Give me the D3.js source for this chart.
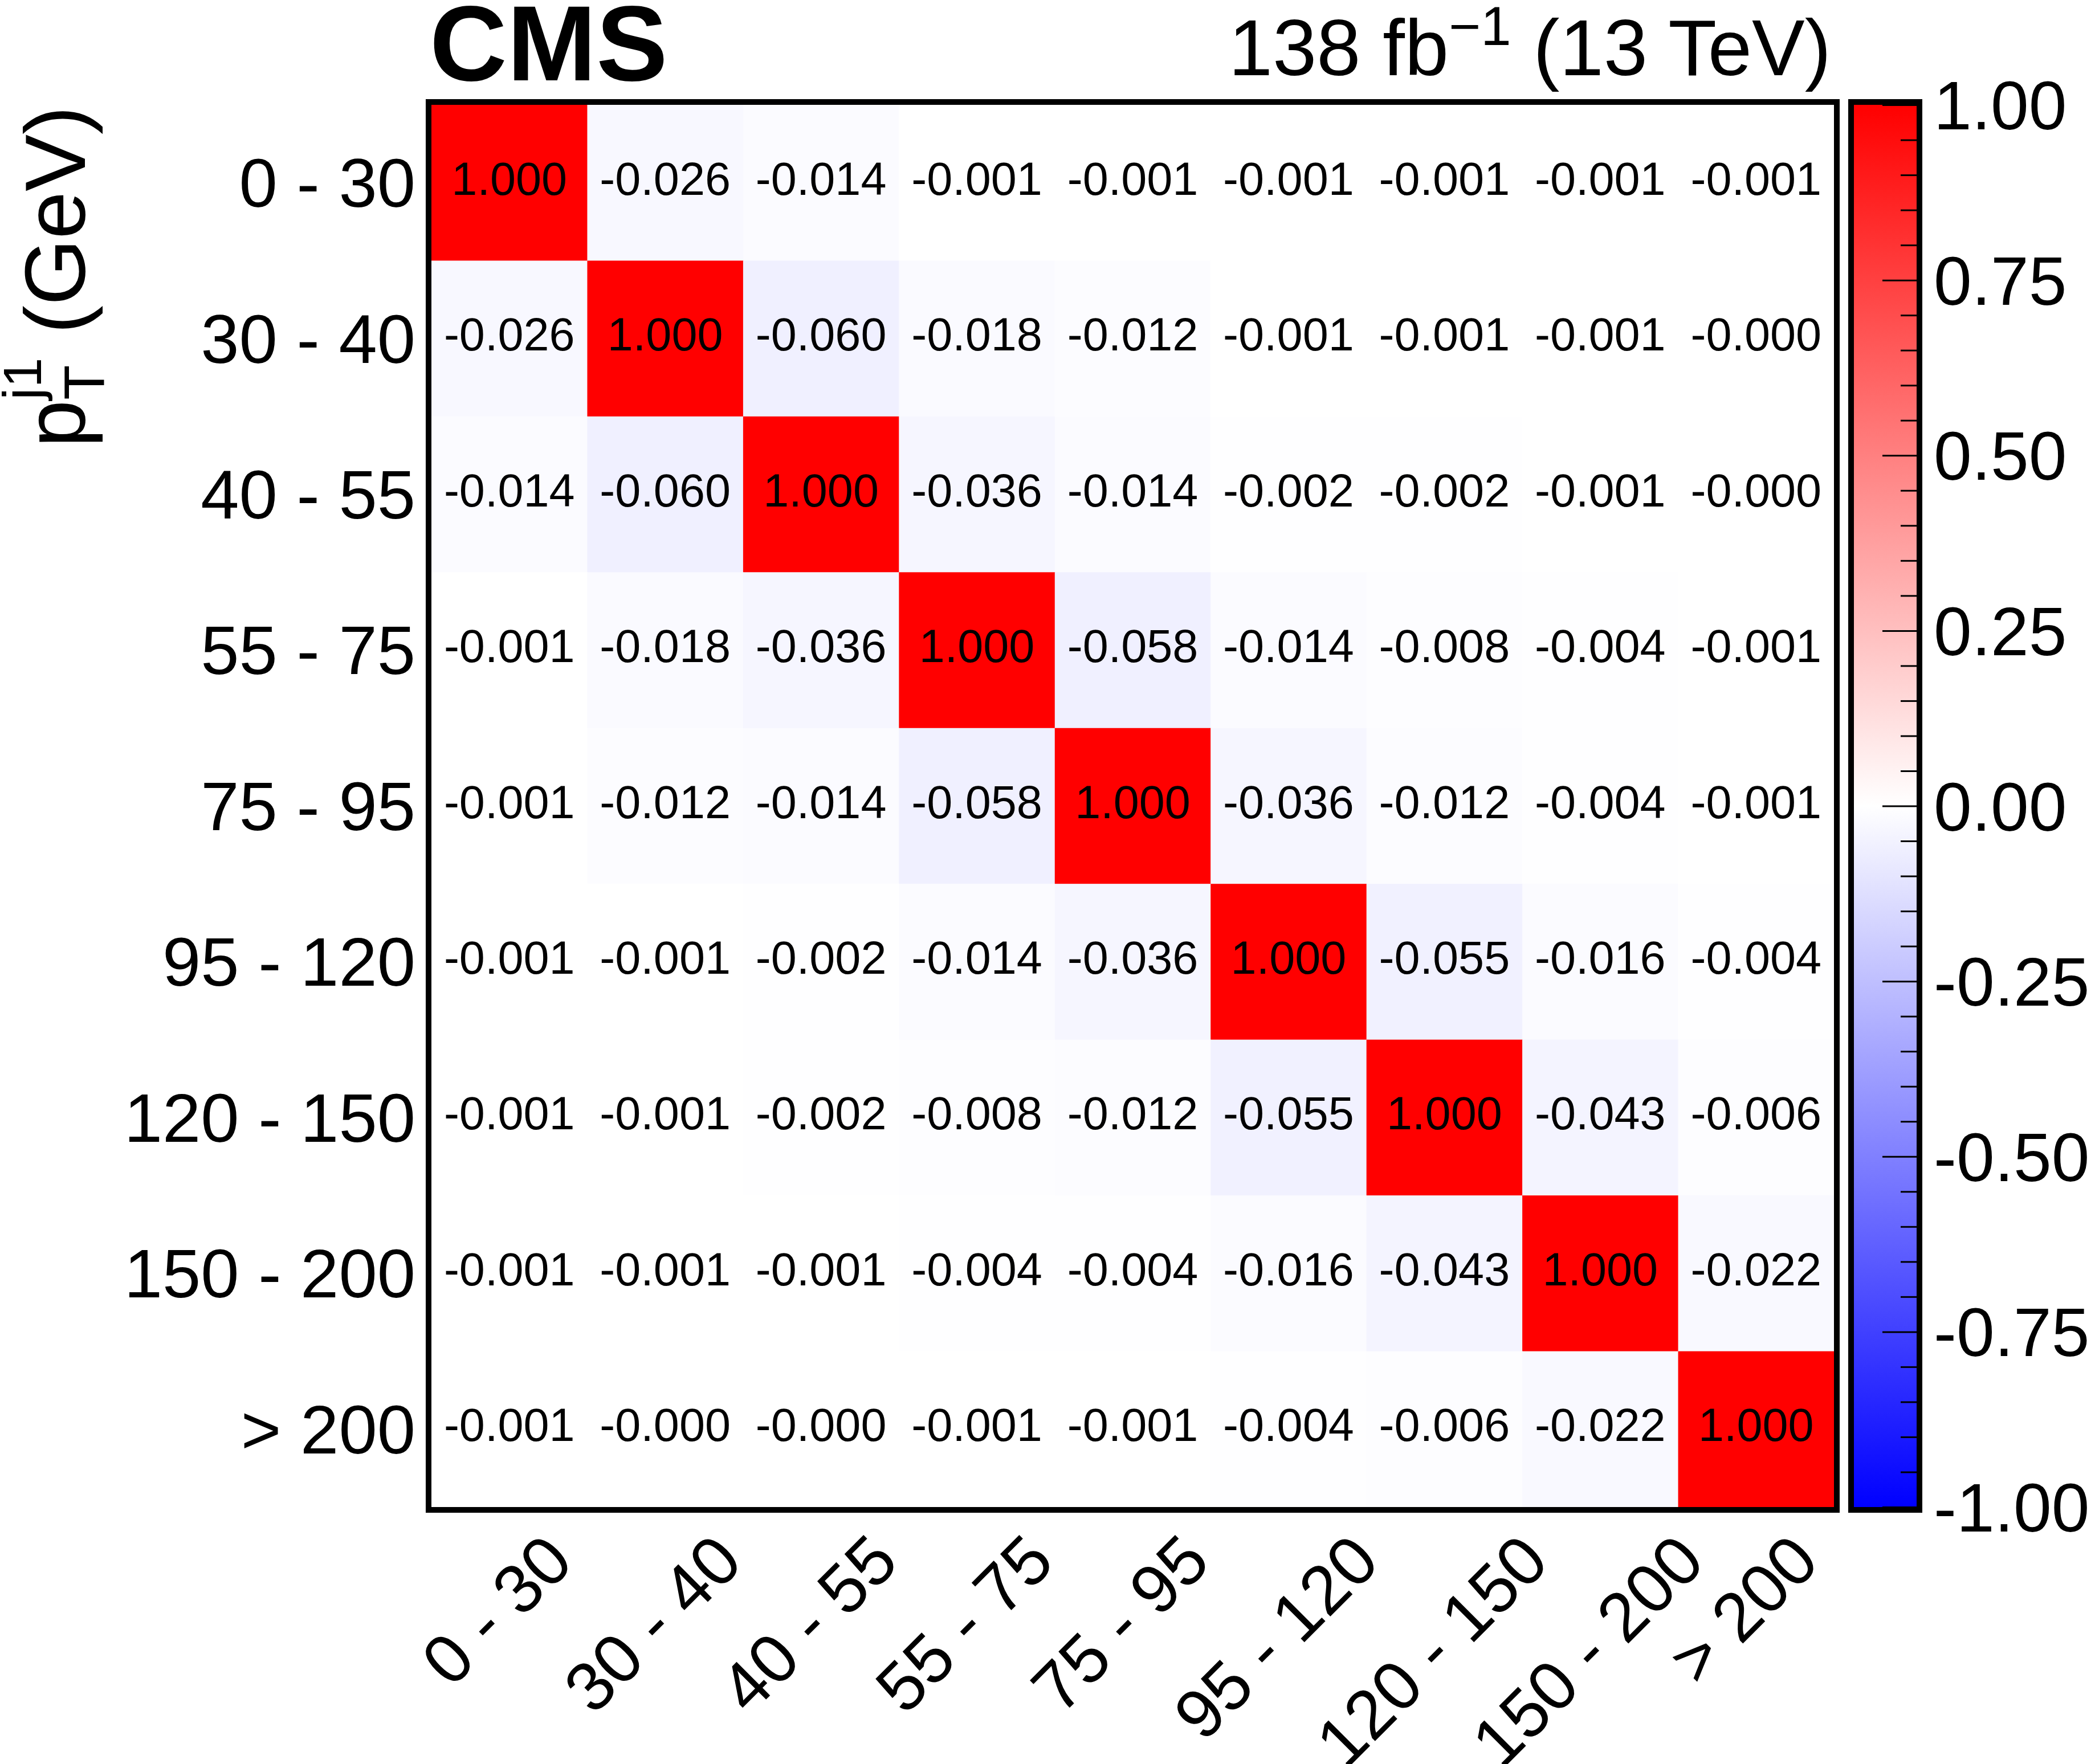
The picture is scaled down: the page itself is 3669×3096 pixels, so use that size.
<!DOCTYPE html>
<html>
<head>
<meta charset="utf-8">
<script src="https://cdn.jsdelivr.net/npm/d3@7"></script>
<style>
  body { margin: 0; background: #fff; }
  text { font-family: "Liberation Sans", Arial, Helvetica, sans-serif; }
</style>
</head>
<body>
<svg id="chart" width="3669" height="3096"></svg>
<script>
// pT(j1) bins, same on both axes
const binLabels = ["0 - 30", "30 - 40", "40 - 55", "55 - 75", "75 - 95",
                   "95 - 120", "120 - 150", "150 - 200", "> 200"];

// correlation matrix, row = y bin (top to bottom), col = x bin
// (-0.0004 is used where the plot prints -0.000)
const corrValues = [
  [ 1.000, -0.026, -0.014, -0.001, -0.001, -0.001, -0.001, -0.001, -0.001],
  [-0.026,  1.000, -0.060, -0.018, -0.012, -0.001, -0.001, -0.001, -0.0004],
  [-0.014, -0.060,  1.000, -0.036, -0.014, -0.002, -0.002, -0.001, -0.0004],
  [-0.001, -0.018, -0.036,  1.000, -0.058, -0.014, -0.008, -0.004, -0.001],
  [-0.001, -0.012, -0.014, -0.058,  1.000, -0.036, -0.012, -0.004, -0.001],
  [-0.001, -0.001, -0.002, -0.014, -0.036,  1.000, -0.055, -0.016, -0.004],
  [-0.001, -0.001, -0.002, -0.008, -0.012, -0.055,  1.000, -0.043, -0.006],
  [-0.001, -0.001, -0.001, -0.004, -0.004, -0.016, -0.043,  1.000, -0.022],
  [-0.001, -0.0004, -0.0004, -0.001, -0.001, -0.004, -0.006, -0.022, 1.000]
];

const paletteMajor = [-1.00, -0.75, -0.50, -0.25, 0.00, 0.25, 0.50, 0.75, 1.00];
const paletteMinorStep = 0.05;

const svg = d3.select("#chart");

// plot area (inside the frame)
const plotL = 757, plotR = 3218, plotT = 184, plotB = 2645;
const x = d3.scaleBand().domain(binLabels).range([plotL, plotR]);
const y = d3.scaleBand().domain(binLabels).range([plotT, plotB]);
const color = d3.scaleLinear().domain([-1, 0, 1]).range(["#0000ff", "#ffffff", "#ff0000"]);

const fmt = v => (v < 0 ? "-" : "") + Math.abs(v).toFixed(3);

const cells = [];
corrValues.forEach((row, i) => {
    row.forEach((v, j) => {
        cells.push({ row: binLabels[i], col: binLabels[j], value: v });
    });
});

svg.append("g")
    .selectAll("rect")
    .data(cells)
    .enter()
    .append("rect")
    .attr("x", d => x(d.col))
    .attr("y", d => y(d.row))
    .attr("width", x.bandwidth() + 0.5)
    .attr("height", y.bandwidth() + 0.5)
    .style("fill", d => color(d.value));

svg.append("g")
    .selectAll("text")
    .data(cells)
    .enter()
    .append("text")
    .attr("x", d => x(d.col) + x.bandwidth() / 2)
    .attr("y", d => y(d.row) + y.bandwidth() / 2 + 21)
    .attr("text-anchor", "middle")
    .style("font-size", "81px")
    .text(d => fmt(d.value));

// frame
svg.append("rect")
    .attr("x", plotL - 5).attr("y", plotT - 5)
    .attr("width", plotR - plotL + 10).attr("height", plotB - plotT + 10)
    .attr("fill", "none").attr("stroke", "#000").attr("stroke-width", 10);

// y axis labels
const yAxis = svg.append("g")
    .attr("transform", "translate(" + plotL + ",0)")
    .call(d3.axisLeft(y).tickSize(0).tickPadding(28));
yAxis.select(".domain").remove();
yAxis.selectAll("text")
    .attr("dy", "0.35em")
    .style("font-size", "121px")
    .style("font-family", "'Liberation Sans', Arial, sans-serif")
    .attr("fill", "#000");

// x axis labels, rotated 45 deg; like ROOT, shifted right by half their width
svg.append("g")
    .selectAll("text")
    .data(binLabels)
    .enter()
    .append("text")
    .attr("text-anchor", "end")
    .style("font-size", "121px")
    .text(d => d)
    .attr("transform", function(d) {
        const len = this.getComputedTextLength();
        const ex = x(d) + x.bandwidth() / 2 + 7 + 0.354 * len;
        return "translate(" + ex + ",2746) rotate(-45)";
    });

// y axis title: p_T^{j1} (GeV)
const ytitle = svg.append("text")
    .attr("transform", "translate(149," + (plotT + 2) + ") rotate(-90)")
    .attr("text-anchor", "end")
    .style("font-size", "150px");
ytitle.append("tspan").text("p");
ytitle.append("tspan").attr("dy", 33).style("font-size", "100px").text("T");
ytitle.append("tspan").attr("dx", -61).attr("dy", -110).style("font-size", "95px").text("j1");
ytitle.append("tspan").attr("dy", 77).text(" (GeV)");

// colour palette
const palLeft = 3253, palRight = 3363;
const pal = d3.scaleLinear().domain([-1, 1]).range([plotB, plotT]);

const grad = svg.append("defs").append("linearGradient")
    .attr("id", "palgrad")
    .attr("x1", 0).attr("y1", 1).attr("x2", 0).attr("y2", 0);
d3.range(-1, 1.0001, 0.25).forEach(v => {
    grad.append("stop")
        .attr("offset", (v + 1) / 2)
        .attr("stop-color", color(v));
});

svg.append("rect")
    .attr("x", palLeft).attr("y", plotT)
    .attr("width", palRight - palLeft).attr("height", plotB - plotT)
    .attr("fill", "url(#palgrad)");

const minorTicks = d3.range(-1, 1.0001, paletteMinorStep)
    .filter(v => !paletteMajor.some(m => Math.abs(m - v) < 1e-6));

const minorAxis = svg.append("g")
    .attr("transform", "translate(" + palRight + ",0)")
    .call(d3.axisLeft(pal).tickValues(minorTicks).tickSize(28).tickFormat(""));
minorAxis.select(".domain").remove();
minorAxis.selectAll("line").attr("stroke-width", 3);

const majorAxis = svg.append("g")
    .attr("transform", "translate(" + palRight + ",0)")
    .call(d3.axisLeft(pal).tickValues(paletteMajor).tickSize(60).tickFormat(""));
majorAxis.select(".domain").remove();
majorAxis.selectAll("line").attr("stroke-width", 3);

svg.append("rect")
    .attr("x", palLeft - 5).attr("y", plotT - 5)
    .attr("width", palRight - palLeft + 10).attr("height", plotB - plotT + 10)
    .attr("fill", "none").attr("stroke", "#000").attr("stroke-width", 10);

svg.append("g")
    .selectAll("text")
    .data(paletteMajor)
    .enter()
    .append("text")
    .attr("x", 3393)
    .attr("y", d => pal(d) + 43)
    .style("font-size", "120px")
    .text(d => d.toFixed(2));

// header
svg.append("text")
    .attr("x", 754).attr("y", 141)
    .style("font-size", "188px")
    .style("font-weight", "bold")
    .text("CMS");

const lumi = svg.append("text")
    .attr("x", 3213).attr("y", 132)
    .attr("text-anchor", "end")
    .style("font-size", "139px");
lumi.append("tspan").text("138 fb");
lumi.append("tspan").attr("dy", -53).style("font-size", "96px").text("\u22121");
lumi.append("tspan").attr("dy", 53).text(" (13 TeV)");
</script>
</body>
</html>
